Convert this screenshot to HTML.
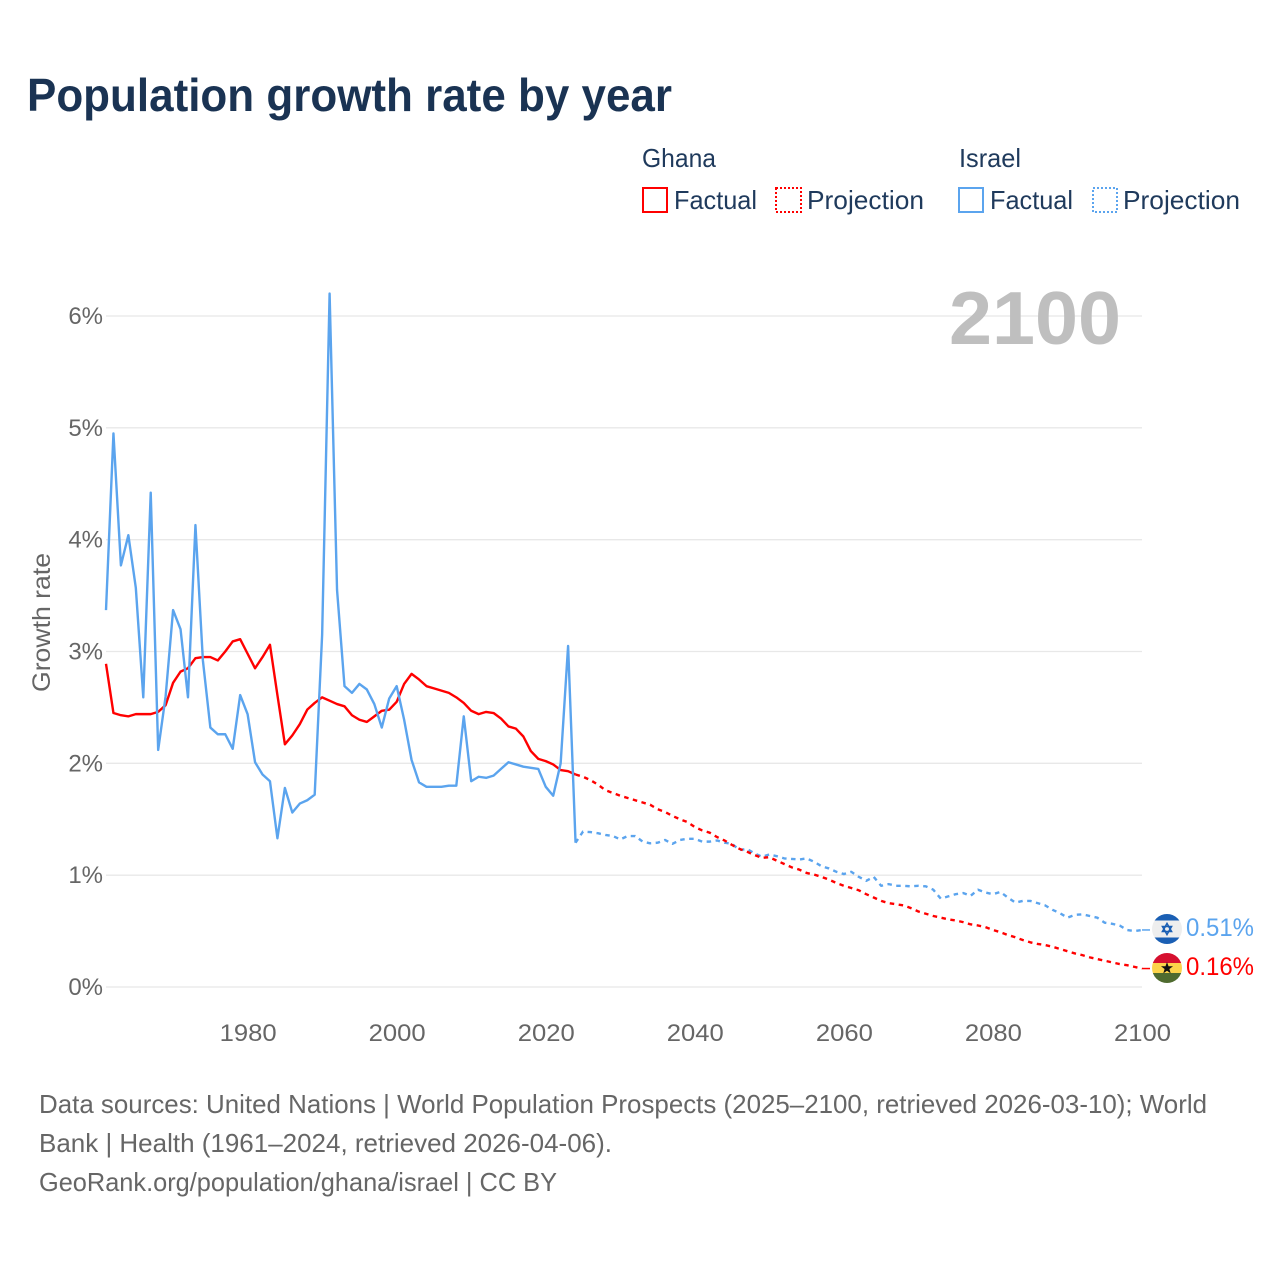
<!DOCTYPE html>
<html lang="en">
<head>
<meta charset="utf-8">
<title>Population growth rate by year</title>
<style>
html,body{margin:0;padding:0;background:#fff;}
svg{display:block;font-family:"Liberation Sans",sans-serif;}
</style>
</head>
<body>
<svg id="chart" xmlns="http://www.w3.org/2000/svg" width="1280" height="1280" viewBox="0 0 1280 1280">
  <defs>
    <clipPath id="clip-israel"><circle cx="1167" cy="929" r="15"/></clipPath>
    <clipPath id="clip-ghana"><circle cx="1167" cy="968" r="15"/></clipPath>
  </defs>
  <rect width="1280" height="1280" fill="#fff"/>
  <text x="27" y="111" font-size="46" font-weight="700" fill="#1a3353" textLength="645" lengthAdjust="spacingAndGlyphs">Population growth rate by year</text>

  <g font-size="26" fill="#1f3a5c">
    <text x="642" y="167" textLength="74" lengthAdjust="spacingAndGlyphs">Ghana</text>
    <rect x="643" y="188" width="24" height="24" fill="none" stroke="#ff0000" stroke-width="2"/>
    <text x="674" y="209" textLength="83" lengthAdjust="spacingAndGlyphs">Factual</text>
    <rect x="776" y="188" width="25" height="24" fill="none" stroke="#ff0000" stroke-width="2" stroke-dasharray="2 2"/>
    <text x="807" y="209" textLength="117" lengthAdjust="spacingAndGlyphs">Projection</text>
    <text x="959" y="167" textLength="62" lengthAdjust="spacingAndGlyphs">Israel</text>
    <rect x="959" y="188" width="24" height="24" fill="none" stroke="#5ba4ee" stroke-width="2"/>
    <text x="990" y="209" textLength="83" lengthAdjust="spacingAndGlyphs">Factual</text>
    <rect x="1093" y="188" width="24" height="24" fill="none" stroke="#5ba4ee" stroke-width="2" stroke-dasharray="2 2"/>
    <text x="1123" y="209" textLength="117" lengthAdjust="spacingAndGlyphs">Projection</text>
  </g>

  <g id="grid"></g>
  <text x="949" y="344" font-size="75" font-weight="700" fill="#bfbfbf" textLength="172" lengthAdjust="spacingAndGlyphs">2100</text>
  <g id="y-ticks"></g>
  <g id="x-ticks"></g>
  <text transform="translate(50 622.5) rotate(-90)" text-anchor="middle" font-size="25" fill="#666666" textLength="139" lengthAdjust="spacingAndGlyphs">Growth rate</text>
  <g id="series"></g>

  <g clip-path="url(#clip-israel)">
    <rect x="1152" y="914" width="30" height="30" fill="#eeeeee"/>
    <rect x="1152" y="914" width="30" height="6.5" fill="#1a5fb4"/>
    <rect x="1152" y="937.5" width="30" height="6.5" fill="#1a5fb4"/>
    <polygon points="1167,923.5 1171.5,931.5 1162.5,931.5" fill="none" stroke="#1a5fb4" stroke-width="1.6"/>
    <polygon points="1167,934.5 1171.5,926.5 1162.5,926.5" fill="none" stroke="#1a5fb4" stroke-width="1.6"/>
  </g>
  <g clip-path="url(#clip-ghana)">
    <rect x="1152" y="953" width="30" height="10" fill="#d6102f"/>
    <rect x="1152" y="963" width="30" height="10" fill="#fcd34a"/>
    <rect x="1152" y="973" width="30" height="10" fill="#4f6b2f"/>
    <polygon points="1167,962 1168.5,966.3 1173,966.3 1169.4,969 1170.7,973.4 1167,970.8 1163.3,973.4 1164.6,969 1161,966.3 1165.5,966.3" fill="#111"/>
  </g>
  <text x="1186" y="936" font-size="25" fill="#5ba4ee" textLength="68" lengthAdjust="spacingAndGlyphs">0.51%</text>
  <text x="1186" y="975" font-size="25" fill="#ff0000" textLength="68" lengthAdjust="spacingAndGlyphs">0.16%</text>

  <g font-size="26" fill="#666666">
    <text x="39" y="1113" textLength="1168" lengthAdjust="spacingAndGlyphs">Data sources: United Nations | World Population Prospects (2025–2100, retrieved 2026-03-10); World</text>
    <text x="39" y="1152" textLength="573" lengthAdjust="spacingAndGlyphs">Bank | Health (1961–2024, retrieved 2026-04-06).</text>
    <text x="39" y="1191" textLength="518" lengthAdjust="spacingAndGlyphs">GeoRank.org/population/ghana/israel | CC BY</text>
  </g>
</svg>
<script>
var yTicks = [0, 1, 2, 3, 4, 5, 6];
var xTicks = [1980, 2000, 2020, 2040, 2060, 2080, 2100];
var factualStartYear = 1961;
var projectionStartYear = 2024;

var ghanaFactual = [
  2.89,2.45,2.43,2.42,2.44,2.44,2.44,2.46,2.52,
  2.72,2.82,2.85,2.94,2.95,2.95,2.92,3.00,3.09,3.11,
  2.98,2.85,2.95,3.06,2.61,2.17,2.25,2.35,2.48,2.54,
  2.59,2.56,2.53,2.51,2.43,2.39,2.37,2.42,2.47,2.48,
  2.55,2.71,2.80,2.75,2.69,2.67,2.65,2.63,2.59,2.54,
  2.47,2.44,2.46,2.45,2.40,2.33,2.31,2.24,2.11,2.04,
  2.02,1.99,1.94,1.93,1.90
];
var ghanaProjection = [
  1.90,1.88,1.85,1.81,1.76,1.735,
  1.71,1.69,1.67,1.65,1.63,1.59,1.565,1.53,1.50,1.475,
  1.43,1.40,1.38,1.34,1.31,1.27,1.235,1.21,1.18,1.155,
  1.16,1.13,1.10,1.07,1.05,1.02,1.005,0.985,0.96,0.93,
  0.905,0.885,0.865,0.83,0.80,0.77,0.75,0.74,0.73,0.705,
  0.675,0.655,0.635,0.62,0.605,0.595,0.58,0.56,0.55,0.535,
  0.51,0.49,0.465,0.445,0.42,0.40,0.385,0.375,0.36,0.34,
  0.32,0.30,0.285,0.265,0.25,0.235,0.22,0.205,0.195,0.18,
  0.165
];
var israelFactual = [
  3.37,4.95,3.77,4.04,3.57,2.59,4.42,2.12,2.60,
  3.37,3.20,2.59,4.13,2.92,2.32,2.26,2.26,2.13,2.61,
  2.44,2.01,1.90,1.84,1.33,1.78,1.56,1.64,1.67,1.72,
  3.15,6.20,3.55,2.69,2.63,2.71,2.66,2.53,2.32,2.58,
  2.69,2.39,2.03,1.83,1.79,1.79,1.79,1.80,1.80,2.42,
  1.84,1.88,1.87,1.89,1.95,2.01,1.99,1.97,1.96,1.95,
  1.79,1.71,2.00,3.05,1.29
];
var israelProjection = [
  1.29,1.39,1.385,1.375,1.36,1.35,
  1.32,1.35,1.35,1.30,1.285,1.29,1.315,1.28,1.315,1.325,
  1.325,1.30,1.30,1.31,1.29,1.28,1.225,1.235,1.195,1.165,
  1.185,1.17,1.15,1.145,1.14,1.15,1.12,1.08,1.06,1.03,
  1.01,1.03,0.985,0.95,0.985,0.905,0.92,0.905,0.905,0.90,
  0.905,0.90,0.87,0.79,0.81,0.83,0.84,0.815,0.87,0.845,
  0.83,0.85,0.80,0.755,0.77,0.77,0.75,0.73,0.69,0.66,
  0.62,0.645,0.65,0.635,0.62,0.575,0.565,0.55,0.51,0.50,
  0.51
];

function xScale(year) { return 106 + (year - 1961) * (1142 - 106) / (2100 - 1961); }
function yScale(value) { return 987 - value * (987 - 316) / 6; }

var NS = 'http://www.w3.org/2000/svg';
var gridGroup = document.getElementById('grid');
var yTickGroup = document.getElementById('y-ticks');
var xTickGroup = document.getElementById('x-ticks');
var seriesGroup = document.getElementById('series');

yTicks.forEach(function (t) {
  var line = document.createElementNS(NS, 'line');
  
  
  line.setAttribute('x1', 106);
  line.setAttribute('x2', 1142);
  line.setAttribute('y1', yScale(t));
  line.setAttribute('y2', yScale(t));
  line.setAttribute('stroke', '#e8e8e8');
  line.setAttribute('stroke-width', '1.3');
  gridGroup.appendChild(line);

  var label = document.createElementNS(NS, 'text');
  
  
  label.setAttribute('x', 103);
  label.setAttribute('y', yScale(t) + 8);
  label.setAttribute('text-anchor', 'end');
  label.setAttribute('font-size', '24');
  label.setAttribute('fill', '#666666');
  label.textContent = t + '%';
  yTickGroup.appendChild(label);
});

xTicks.forEach(function (t) {
  var label = document.createElementNS(NS, 'text');
  
  
  label.setAttribute('x', xScale(t) + 0.5);
  label.setAttribute('y', 1041);
  label.setAttribute('text-anchor', 'middle');
  label.setAttribute('font-size', '24');
  label.setAttribute('fill', '#666666');
  label.setAttribute('textLength', '57');
  label.setAttribute('lengthAdjust', 'spacingAndGlyphs');
  label.textContent = String(t);
  xTickGroup.appendChild(label);
});

function pointsFor(values, startYear) {
  return values.map(function (v, i) {
    return xScale(startYear + i).toFixed(2) + ',' + yScale(v).toFixed(2);
  }).join(' ');
}

function makeLine(values, startYear, color, dashed) {
  var line = document.createElementNS(NS, 'polyline');
  line.setAttribute('points', pointsFor(values, startYear));
  line.setAttribute('fill', 'none');
  line.setAttribute('stroke', color);
  line.setAttribute('stroke-width', '2.4');
  line.setAttribute('stroke-linejoin', 'round');
  if (dashed) { line.setAttribute('stroke-dasharray', '4.5 4.5'); }
  return line;
}

var israelProjectionLine = makeLine(israelProjection, projectionStartYear, '#5ba4ee', true);


seriesGroup.appendChild(israelProjectionLine);

var ghanaProjectionLine = makeLine(ghanaProjection, projectionStartYear, '#ff0000', true);


seriesGroup.appendChild(ghanaProjectionLine);

var ghanaFactualLine = makeLine(ghanaFactual, factualStartYear, '#ff0000', false);


seriesGroup.appendChild(ghanaFactualLine);

var israelFactualLine = makeLine(israelFactual, factualStartYear, '#5ba4ee', false);


seriesGroup.appendChild(israelFactualLine);

var israelConnector = document.createElementNS(NS, 'line');


israelConnector.setAttribute('x1', xScale(2100));
israelConnector.setAttribute('x2', 1150);
israelConnector.setAttribute('y1', yScale(israelProjection[israelProjection.length - 1]));
israelConnector.setAttribute('y2', yScale(israelProjection[israelProjection.length - 1]));
israelConnector.setAttribute('stroke', '#5ba4ee');
israelConnector.setAttribute('stroke-width', '1.5');
seriesGroup.appendChild(israelConnector);

var ghanaConnector = document.createElementNS(NS, 'line');


ghanaConnector.setAttribute('x1', xScale(2100));
ghanaConnector.setAttribute('x2', 1150);
ghanaConnector.setAttribute('y1', yScale(ghanaProjection[ghanaProjection.length - 1]));
ghanaConnector.setAttribute('y2', yScale(ghanaProjection[ghanaProjection.length - 1]));
ghanaConnector.setAttribute('stroke', '#ff0000');
ghanaConnector.setAttribute('stroke-width', '1.5');
seriesGroup.appendChild(ghanaConnector);
</script>
</body>
</html>
